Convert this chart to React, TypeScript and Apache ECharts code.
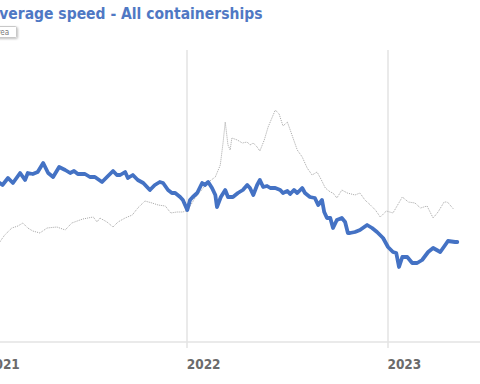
import React, { useEffect, useRef } from 'react';
import * as echarts from 'echarts';

// x values: days since 1 Jan 2021; y values: average speed (knots)
const yearLabels = ['2021', '2022', '2023'];
const daysPerYear = 365;

const containershipSpeed: [number, number][] = [
  [25, 15.18], [30, 15.14], [40, 15.28], [49, 15.18], [62, 15.38], [71, 15.24],
  [76, 15.38], [85, 15.36], [94, 15.4], [104, 15.58], [113, 15.38], [122, 15.3],
  [133, 15.5], [144, 15.44], [153, 15.38], [160, 15.42], [167, 15.36], [180, 15.36],
  [189, 15.3], [198, 15.3], [211, 15.2], [220, 15.3], [231, 15.42], [238, 15.34],
  [244, 15.34], [253, 15.4], [258, 15.28], [267, 15.34], [276, 15.24], [286, 15.18],
  [298, 15.04], [307, 15.14], [316, 15.2], [322, 15.18], [331, 15.04], [338, 14.98],
  [344, 14.98], [353, 14.9], [358, 14.84], [366, 14.64], [371, 14.84], [376, 14.9],
  [384, 14.98], [393, 15.18], [398, 15.14], [404, 15.2], [411, 15.08], [417, 14.94],
  [420, 14.7], [427, 14.9], [435, 15.04], [440, 14.9], [449, 14.9], [458, 14.98],
  [467, 15.04], [475, 15.14], [480, 15.08], [486, 14.94], [493, 15.14], [498, 15.24],
  [504, 15.1], [511, 15.12], [517, 15.08], [526, 15.08], [535, 15.04], [540, 14.98],
  [548, 15.02], [553, 14.96], [560, 15.04], [566, 14.98], [575, 15.08], [580, 14.98],
  [589, 14.9], [598, 14.88], [604, 14.74], [611, 14.84], [615, 14.6], [620, 14.48],
  [626, 14.48], [631, 14.28], [638, 14.44], [647, 14.48], [653, 14.4], [658, 14.18],
  [662, 14.18], [671, 14.2], [680, 14.24], [693, 14.34], [702, 14.28], [711, 14.2],
  [722, 14.08], [731, 13.9], [740, 13.8], [746, 13.78], [751, 13.5], [757, 13.7],
  [766, 13.7], [775, 13.58], [784, 13.58], [793, 13.64], [804, 13.8], [813, 13.88],
  [826, 13.8], [835, 13.94], [840, 14.02], [853, 14.0], [857, 14.0],
];

const areaSpeed: [number, number][] = [
  [25, 14.0], [34, 14.14], [47, 14.28], [58, 14.32], [67, 14.38], [76, 14.28],
  [85, 14.22], [98, 14.18], [111, 14.28], [129, 14.3], [144, 14.24], [156, 14.38],
  [176, 14.46], [195, 14.5], [202, 14.4], [207, 14.48], [220, 14.4], [231, 14.3],
  [240, 14.4], [253, 14.48], [266, 14.54], [276, 14.68], [289, 14.82], [302, 14.78],
  [313, 14.74], [326, 14.72], [336, 14.58], [347, 14.6], [358, 14.6], [367, 14.64],
  [380, 14.88], [395, 15.08], [407, 15.22], [417, 15.3], [426, 15.54], [431, 15.98],
  [435, 16.4], [440, 15.94], [444, 15.84], [447, 16.08], [457, 16.04], [466, 15.98],
  [475, 16.0], [480, 15.94], [486, 15.98], [493, 15.9], [498, 15.82], [506, 16.04],
  [513, 16.3], [526, 16.64], [533, 16.56], [540, 16.32], [548, 16.4], [557, 16.12],
  [566, 15.84], [575, 15.7], [584, 15.48], [593, 15.34], [602, 15.4], [609, 15.26],
  [617, 15.08], [626, 15.0], [631, 14.98], [638, 14.88], [647, 15.04], [657, 14.98],
  [671, 14.94], [680, 14.98], [689, 14.84], [699, 14.74], [708, 14.64], [717, 14.5],
  [728, 14.62], [740, 14.58], [757, 14.9], [768, 14.8], [780, 14.78], [790, 14.68],
  [802, 14.72], [813, 14.48], [822, 14.6], [833, 14.8], [839, 14.8], [850, 14.66],
];

const FONT = "'Liberation Sans Narrow', 'DejaVu Sans Condensed', Roboto, sans-serif";

export default function App() {
  const ref = useRef<HTMLDivElement>(null);
  useEffect(() => {
    if (!ref.current) return;
    const chart = echarts.init(ref.current, null, { renderer: 'svg' });
    chart.setOption({
      animation: false,
      backgroundColor: '#ffffff',
      title: {
        text: 'Average speed - All containerships',
        left: 29,
        top: 6,
        padding: 0,
        textStyle: { color: '#4f78c4', fontSize: 15.5, fontWeight: 'bold', fontFamily: FONT },
      },
      graphic: [
        {
          type: 'group',
          left: 20,
          top: 26,
          children: [
            {
              type: 'rect',
              shape: { x: 0, y: 0, width: 36, height: 11, r: 1 },
              style: {
                fill: '#ffffff',
                stroke: '#c8c8c8',
                lineWidth: 1,
                shadowColor: 'rgba(0,0,0,0.25)',
                shadowBlur: 2,
                shadowOffsetX: 1,
                shadowOffsetY: 1,
              },
            },
            {
              type: 'text',
              x: 12,
              y: 1.5,
              style: { text: 'Area', fill: '#777777', fontSize: 8, fontFamily: FONT },
            },
          ],
        },
      ],
      grid: { left: 26, right: 33, top: 50, bottom: 42 },
      xAxis: {
        type: 'value',
        min: 0,
        max: 911,
        interval: daysPerYear,
        axisLine: { show: true, onZero: false, lineStyle: { color: '#e3e3e3', width: 1.5 } },
        axisTick: { show: true, length: 6, lineStyle: { color: '#e3e3e3', width: 1.5 } },
        splitLine: { show: true, lineStyle: { color: '#e3e3e3', width: 1.5 } },
        axisLabel: {
          align: 'left',
          margin: 15,
          color: '#6b6b6b',
          fontSize: 13.5,
          fontWeight: 'bold',
          fontFamily: FONT,
          showMaxLabel: false,
          formatter: (v: number) => (v % daysPerYear === 0 ? yearLabels[v / daysPerYear] ?? '' : ''),
        },
      },
      yAxis: {
        type: 'value',
        show: false,
        min: 12,
        max: 17.84,
        splitLine: { show: false },
      },
      series: [
        {
          name: 'Area',
          type: 'line',
          data: areaSpeed,
          showSymbol: false,
          lineStyle: { color: '#a6a6a6', width: 1, type: 'dotted' },
          z: 2,
        },
        {
          name: 'All containerships',
          type: 'line',
          data: containershipSpeed,
          showSymbol: false,
          lineStyle: { color: '#4472c4', width: 3.8, join: 'round', cap: 'round' },
          z: 3,
        },
      ],
    });
    return () => chart.dispose();
  }, []);
  return (
    <div style={{ position: 'absolute', left: 0, top: 0, width: 480, height: 384, overflow: 'hidden' }}>
      <div ref={ref} style={{ position: 'absolute', left: -40, top: 0, width: 560, height: 384 }} />
    </div>
  );
}
